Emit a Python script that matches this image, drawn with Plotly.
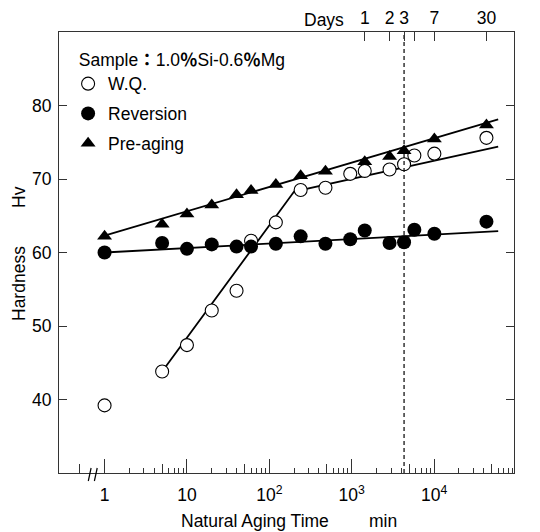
import plotly.graph_objects as go

# ---------------- data ----------------
time_wq = [1, 5, 10, 20, 40, 60, 120, 240, 480, 960, 1440, 2880, 4320, 5760, 10080, 43200]
hv_wq = [39.2, 43.8, 47.4, 52.1, 54.8, 61.6, 64.1, 68.5, 68.8, 70.7, 71.1, 71.3, 72.0, 73.2, 73.45, 75.6]

time_rev = [1, 5, 10, 20, 40, 60, 120, 240, 480, 960, 1440, 2880, 4320, 5760, 10080, 43200]
hv_rev = [60.0, 61.3, 60.5, 61.1, 60.8, 60.8, 61.2, 62.2, 61.2, 61.8, 63.0, 61.3, 61.4, 63.1, 62.55, 64.2]

time_pre = [1, 5, 10, 20, 40, 60, 120, 240, 480, 1440, 2880, 4320, 10080, 43200]
hv_pre = [62.2, 63.85, 65.25, 66.45, 67.85, 68.45, 69.25, 70.45, 71.05, 72.35, 73.05, 73.85, 75.45, 77.35]

# fitted straight lines (end / kink points)
fit_wq_t = [5, 200, 60000]
fit_wq_hv = [43.8, 68.3, 74.4]
fit_rev_t = [1, 60000]
fit_rev_hv = [60.0, 62.9]
fit_pre_t = [1, 60000]
fit_pre_hv = [62.3, 78.1]

# axis ticks
major_ticks = [1, 10, 100, 1000, 10000]
major_labels = ["1", "10", "10<sup>2</sup>", "10<sup>3</sup>", "10<sup>4</sup>"]
mid_ticks = [0.5, 5, 50, 500, 5000, 50000]
minor_ticks = [2, 3, 4, 6, 7, 8, 9,
               20, 30, 40, 60, 70, 80, 90,
               200, 300, 400, 600, 700, 800, 900,
               2000, 3000, 4000, 6000, 7000, 8000, 9000,
               20000, 30000, 40000, 60000, 70000, 80000, 90000]
day_ticks_min = [1440, 2880, 4320, 5760, 10080, 43200]
day_labels = ["1", "2", "3", "", "7", "30"]
y_ticks = [40, 50, 60, 70, 80]
marker_time_3days = [4320, 4320]
y_range = [30, 90]
x_range_log = [-0.553, 4.97]

FONT = "Liberation Sans, Arial, Noto Sans CJK JP, sans-serif"
FS = 17.5
AX = "#333333"

fig = go.Figure()

# fitted lines
for t, h in [(fit_wq_t, fit_wq_hv), (fit_rev_t, fit_rev_hv), (fit_pre_t, fit_pre_hv)]:
    fig.add_trace(go.Scatter(x=t, y=h, mode="lines", line=dict(color="black", width=1.8),
                             showlegend=False, hoverinfo="skip"))

# dashed 3-day line (on top axis)
fig.add_trace(go.Scatter(x=marker_time_3days, y=y_range, mode="lines", xaxis="x2",
                         line=dict(color="black", width=1.2, dash="4px,3px"),
                         showlegend=False, hoverinfo="skip"))
# helper empty trace for the mid-tick axis
fig.add_trace(go.Scatter(x=[], y=[], xaxis="x3", showlegend=False, hoverinfo="skip"))

fig.add_trace(go.Scatter(x=time_wq, y=hv_wq, mode="markers", name="W.Q.", legendgroup="a",
                         marker=dict(symbol="circle", size=13, color="white",
                                     line=dict(color="black", width=1.1))))
fig.add_trace(go.Scatter(x=time_rev, y=hv_rev, mode="markers", name="Reversion", legendgroup="b",
                         marker=dict(symbol="circle", size=14, color="black",
                                     line=dict(color="black", width=0))))
fig.add_trace(go.Scatter(x=time_pre, y=hv_pre, mode="markers", name="Pre-aging", legendgroup="c",
                         marker=dict(symbol="triangle-up", size=13, color="black",
                                     line=dict(color="black", width=0))))

common_x = dict(type="log", range=x_range_log, showgrid=False, zeroline=False, automargin=False)

# the page body adds an 8px offset, so the figure is 8px smaller and margins compensate
fig.update_layout(
    width=532, height=524,
    margin=dict(l=51, r=26, t=24, b=59),
    paper_bgcolor="white", plot_bgcolor="white",
    font=dict(family=FONT, size=FS, color="black"),
    xaxis=dict(**common_x, tickmode="array", tickvals=major_ticks, ticktext=major_labels,
               ticks="inside", ticklen=14, tickwidth=1.2, tickcolor=AX,
               showline=True, linecolor=AX, linewidth=1.2, mirror=True,
               tickfont=dict(size=FS), ticklabelstandoff=6,
               minor=dict(tickmode="array", tickvals=minor_ticks, ticks="inside",
                          ticklen=5, tickwidth=1.2, tickcolor=AX, showgrid=False)),
    xaxis2=dict(**common_x, overlaying="x", side="top", anchor="y", tickmode="array",
                tickvals=day_ticks_min, ticktext=day_labels,
                ticks="inside", ticklen=9, tickwidth=1.2, tickcolor=AX,
                showline=True, linecolor=AX, linewidth=1.2,
                tickfont=dict(size=FS), ticklabelstandoff=0),
    xaxis3=dict(**common_x, overlaying="x", side="bottom", anchor="y", tickmode="array",
                tickvals=mid_ticks, ticks="inside", ticklen=9, tickwidth=1.2, tickcolor=AX,
                showticklabels=False, showline=False),
    yaxis=dict(range=y_range, tickmode="array", tickvals=y_ticks, showgrid=False, zeroline=False,
               automargin=False,
               ticks="inside", ticklen=8, tickwidth=1.2, tickcolor=AX,
               showline=True, linecolor=AX, linewidth=1.2, mirror="ticks",
               tickfont=dict(size=FS), ticklabelstandoff=3),
    legend=dict(x=0.02, y=0.975, xanchor="left", yanchor="top", bgcolor="rgba(0,0,0,0)",
                font=dict(size=FS), tracegroupgap=4,
                title=dict(text="\u2002Sample<b>：</b>1.0<b>％</b>Si-0.6<b>％</b>Mg",
                           font=dict(size=FS))),
    showlegend=True,
)

# axis-break marks on the bottom axis
for xa in [(89.7 - 59) / 455, (95.8 - 59) / 455]:
    fig.add_shape(type="line", xref="paper", yref="paper", xsizemode="pixel", ysizemode="pixel",
                  xanchor=xa, yanchor=0, x0=-1.4, x1=1.4, y0=-8, y1=5,
                  line=dict(color="black", width=1.2))

# texts
fig.add_annotation(text="Days", xref="paper", yref="paper", x=(324 - 59) / 455, y=1,
                   yshift=12, showarrow=False, font=dict(size=FS), xanchor="center", yanchor="middle")
fig.add_annotation(text="Natural Aging Time", xref="paper", yref="paper", x=(255 - 59) / 455, y=0,
                   yshift=-48, showarrow=False, font=dict(size=FS), xanchor="center", yanchor="middle")
fig.add_annotation(text="min", xref="paper", yref="paper", x=(383 - 59) / 455, y=0,
                   yshift=-48, showarrow=False, font=dict(size=FS), xanchor="center", yanchor="middle")
fig.add_annotation(text="Hardness", xref="paper", yref="paper", x=0, xshift=-40,
                   y=1 - (284 - 32) / 441, showarrow=False, textangle=-90, font=dict(size=FS),
                   xanchor="center", yanchor="middle")
fig.add_annotation(text="Hv", xref="paper", yref="paper", x=0, xshift=-40,
                   y=1 - (197 - 32) / 441, showarrow=False, textangle=-90, font=dict(size=FS),
                   xanchor="center", yanchor="middle")

fig.write_html("out.html")
